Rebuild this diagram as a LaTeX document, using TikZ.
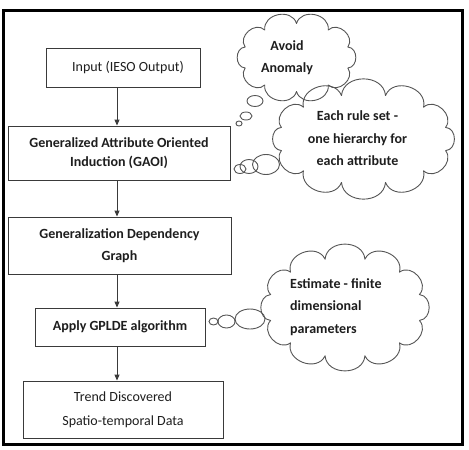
\documentclass[tikz,border=0pt]{standalone}
\usepackage{fontspec}
\setmainfont{Carlito}
\usetikzlibrary{arrows.meta}
\definecolor{boxline}{HTML}{3A3A3A}
\definecolor{cloudline}{HTML}{555555}
\definecolor{txt}{HTML}{1E1E1E}
\newcommand{\puffcloud}[5]{% cx, cy, a, b, N
  \draw[thought] ({#1+#3*cos(0.5*360/#5)},{#2+#4*sin(0.5*360/#5)})
    \foreach \i in {1,...,#5} { to[bend left=85,looseness=1.3] ({#1+#3*cos((\i+0.5)*360/#5)},{#2+#4*sin((\i+0.5)*360/#5)}) };}
\begin{document}
\begin{tikzpicture}[x=1pt,y=-1pt,
  stepbox/.style={draw=boxline,line width=0.9pt,rectangle,inner sep=0pt,align=center,text=txt},
  regtext/.style={font=\fontsize{14}{22}\selectfont},
  boldtext/.style={font=\fontsize{14}{22}\selectfont\bfseries},
  thought/.style={draw=cloudline,line width=0.9pt,line join=round},
  bubble/.style={draw=cloudline,line width=0.9pt},
  flow/.style={draw=boxline,line width=0.9pt,-{Triangle[length=6pt,width=5pt]}},
  ctext/.style={font=\fontsize{14}{22.5}\selectfont\bfseries,text=txt,inner sep=0pt}]
\useasboundingbox (0,0) rectangle (469,450);
\fill[white] (0,0) rectangle (469,450);
\draw[line width=3pt,black] (3,10.5) rectangle (462,444.5);

% boxes
\node[stepbox,regtext,minimum width=154pt,minimum height=39pt] (b1) at (123,67.5) {};
\node[regtext,text=txt,inner sep=0pt] (b1t) at (128,68) {Input (IESO Output)};
\node[stepbox,minimum width=222pt,minimum height=54pt,font=\fontsize{14}{19}\selectfont\bfseries] (b2) at (119,153) {Generalized Attribute Oriented\\Induction (GAOI)};
\node[stepbox,boldtext,minimum width=223pt,minimum height=57pt] (b3) at (119.5,245.5) {Generalization Dependency\\Graph};
\node[stepbox,boldtext,minimum width=170pt,minimum height=38pt] (b4) at (120,327) {Apply GPLDE algorithm};
\node[stepbox,font=\fontsize{14}{24}\selectfont,minimum width=200pt,minimum height=57pt] (b5) at (123,409.5) {Trend Discovered\\Spatio-temporal Data};

% arrows
\coordinate (ax) at (117,0);
\draw[flow] (b1.south -| ax) -- (b2.north -| ax);
\draw[flow] (b2.south -| ax) -- (b3.north -| ax);
\draw[flow] (b3.south -| ax) -- (b4.north -| ax);
\draw[flow] (b4.south -| ax) -- (b5.north -| ax);

% clouds
\puffcloud{296.5}{57.5}{54}{34}{10}
\node[ctext,align=center] (c1t) at (287,57.5) {Avoid\\Anomaly};
\puffcloud{363.5}{139}{85}{45}{12}
\node[ctext,align=center] (c2t) at (357.5,138.5) {Each rule set -\\one hierarchy for\\each attribute};
\puffcloud{345}{307.5}{77}{50}{12}
\node[ctext,align=left,anchor=west] (c3t) at (290,307) {Estimate - finite\\dimensional\\parameters};

% thought bubbles
\draw[bubble] (255,101) ellipse [x radius=8,y radius=5.5];
\draw[bubble] (246,116) ellipse [x radius=6,y radius=4];
\draw[bubble] (239,123.5) ellipse [x radius=3,y radius=2.5];

\draw[bubble] (266,164.5) ellipse [x radius=13.5,y radius=10];
\draw[bubble] (249,166.5) ellipse [x radius=9,y radius=7];
\draw[bubble] (240,169) ellipse [x radius=6,y radius=4.5];

\draw[bubble] (250,319) ellipse [x radius=15,y radius=10];
\draw[bubble] (226.5,321.5) ellipse [x radius=8.5,y radius=6.5];
\draw[bubble] (213.5,321.5) ellipse [x radius=4.5,y radius=3.5];
\end{tikzpicture}
\end{document}
